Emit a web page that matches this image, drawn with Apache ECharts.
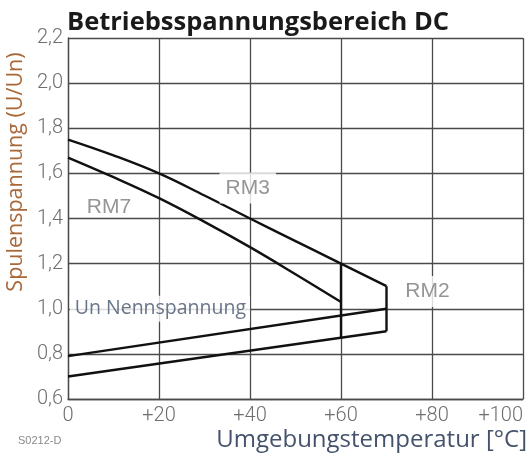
<!DOCTYPE html>
<html>
<head>
<meta charset="utf-8">
<script src="https://cdn.jsdelivr.net/npm/echarts@6/dist/echarts.min.js"></script>
<style>html,body{margin:0;padding:0;background:#fff}#c{width:531px;height:456px}</style>
</head>
<body>
<div id="c"></div>
<script>
// ---- data ----
const titleText = 'Betriebsspannungsbereich DC';
const yAxisTitle = 'Spulenspannung (U/Un)';
const xAxisTitle = 'Umgebungstemperatur [°C]';
const codeText = 'S0212-D';
const xTicks = [0, 20, 40, 60, 80, 100];
const yTicks = [0.6, 0.8, 1.0, 1.2, 1.4, 1.6, 1.8, 2.0, 2.2];

// upper limit curve (RM3 / RM2)
const upperCurve = [[0,1.75],[10,1.68],[20,1.6],[30,1.502],[40,1.4],[50,1.3],[60,1.2]];
const rm2Segment = [[60,1.2],[70,1.1]];
// RM7 upper limit curve
const rm7Curve = [[0,1.67],[10,1.583],[20,1.49],[30,1.385],[40,1.273],[50,1.153],[60,1.03]];
// vertical limits
const limit60 = [[60,1.2],[60,0.87]];
const limit70 = [[70,1.1],[70,0.9]];
// lower limit lines
const lowerLineA = [[0,0.79],[70,1.0]];
const lowerLineB = [[0,0.7],[70,0.9]];

// labels inside the plot
const labelNames = ['RM3', 'RM7', 'RM2', 'Un Nennspannung'];
const labelX = [39.5, 9.0, 79.0, 20.2];
const labelY = [1.535, 1.45, 1.077, 1.0];

const lineStyle = {color:'#111', width:2.4};
function lineSeries(data, smooth){
  return {type:'line', data:data, symbol:'none', smooth:smooth||false, lineStyle:lineStyle, silent:true, z:3, animation:false};
}

const chart = echarts.init(document.getElementById('c'), null, {renderer:'canvas'});
const gridColor = '#4a4a4a';
const pads = {'RM3':[5,6,5,6], 'RM7':[0,0,0,0], 'RM2':[5,5,5,5]};
const bgs = {'RM3':'#fff', 'RM7':'transparent', 'RM2':'#fff'};
const labelData = labelNames.map((n,i)=>{
  const isUn = n.startsWith('Un');
  return {
    value:[labelX[i], labelY[i]],
    name:n,
    label:isUn ? {
      color:'#44526c', fontFamily:'Open Sans', fontSize:19.5,
      backgroundColor:'#fff', padding:[3,4,3,5]
    } : {
      color:'#7a7a7a', fontFamily:'Liberation Sans', fontSize:21,
      backgroundColor:bgs[n], padding:pads[n]
    }
  };
});

chart.setOption({
  animation:false,
  grid:{left:68, right:8, top:38, bottom:57},
  xAxis:{
    type:'value', min:0, max:100, interval:20,
    axisLine:{show:true, lineStyle:{color:gridColor, width:1.3}},
    axisTick:{show:false},
    splitLine:{show:true, lineStyle:{color:gridColor, width:1.3}},
    axisLabel:{
      color:'#6e6e6e', fontFamily:'Roboto', fontWeight:300, fontSize:20, margin:7,
      alignMaxLabel:'right',
      formatter:v=> v===0 ? '0' : '+'+v
    }
  },
  yAxis:{
    type:'value', min:0.6, max:2.2, interval:0.2,
    axisLine:{show:true, lineStyle:{color:gridColor, width:1.3}},
    axisTick:{show:false},
    splitLine:{show:true, lineStyle:{color:gridColor, width:1.3}},
    axisLabel:{
      color:'#6e6e6e', fontFamily:'Roboto', fontWeight:300, fontSize:20, margin:5,
      formatter:v=> v.toFixed(1).replace('.', ',')
    }
  },
  series:[
    lineSeries(upperCurve, 0.4),
    lineSeries(rm2Segment),
    lineSeries(rm7Curve, 0.4),
    lineSeries(limit60),
    lineSeries(limit70),
    lineSeries(lowerLineA),
    lineSeries(lowerLineB),
    {
      type:'scatter', symbolSize:0, z:5, silent:true,
      data:labelData,
      label:{show:true, position:'inside', formatter:p=>p.name}
    }
  ],
  graphic:[
    {type:'text', left:67, top:10, style:{text:titleText, font:'bold 25.5px "Open Sans"', fill:'#1a1a1a'}},
    {type:'text', x:16, y:172, rotation:Math.PI/2, style:{text:yAxisTitle, font:'21.5px "Open Sans"', fill:'#a8683a', align:'center', verticalAlign:'middle'}},
    {type:'text', x:527, y:440, style:{text:xAxisTitle, font:'24px "Open Sans"', fill:'#44526c', align:'right', verticalAlign:'middle'}},
    {type:'text', x:18, y:441, style:{text:codeText, font:'11px "Liberation Sans"', fill:'#8a8a8a', align:'left', verticalAlign:'middle'}}
  ]
});
</script>
</body>
</html>
